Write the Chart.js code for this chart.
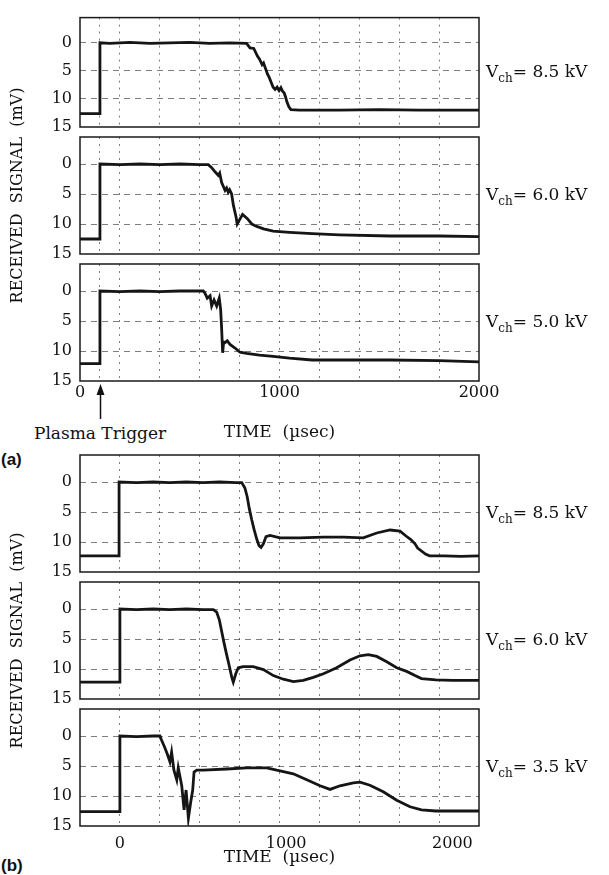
<!DOCTYPE html>
<html>
<head>
<meta charset="utf-8">
<script src="https://cdn.jsdelivr.net/npm/chart.js@4.4.1/dist/chart.umd.min.js"></script>
<style>
  html, body { margin: 0; padding: 0; background: #fff; }
  #fig { position: relative; width: 609px; height: 875px; overflow: hidden; font-family: 'DejaVu Serif', serif; color: #111; }
  #fig canvas { position: absolute; left: 0; top: 0; }
  .vch { position: absolute; left: 486px; font-size: 17px; line-height: 20px; white-space: nowrap; }
  .vch sub { font-size: 12px; vertical-align: -5px; line-height: 0; }
  .note { position: absolute; font-size: 17px; line-height: 20px; white-space: nowrap; }
  .tag { position: absolute; left: 1px; font-family: 'Liberation Sans', Arial, sans-serif; font-weight: bold; font-size: 17px; line-height: 20px; }
</style>
</head>
<body>
<div id="fig">
  <div class="note" id="trigLabel">Plasma Trigger</div>
  <div class="tag" style="top:450px">(a)</div>
  <div class="tag" style="top:856px">(b)</div>
</div>
<script>
// oscilloscope traces, time in usec, signal in mV (axis points down)

// (a) trigger at ~100 usec
var timeA1 = [0, 100, 100, 150, 250, 350, 450, 550, 650, 750, 835, 852, 871, 890, 900, 913, 920, 929, 940, 949, 960, 968, 978, 988, 998, 1007, 1015, 1023, 1030, 1037, 1047, 1057, 1100, 1300, 1500, 1700, 1900, 2000];
var sigA1  = [12.6, 12.6, 0, 0.1, -0.1, 0.1, 0, -0.1, 0.1, 0, 0.1, 0.9, 1.0, 2.4, 2.9, 3.9, 3.6, 4.5, 5.6, 6.2, 7.2, 7.9, 8.3, 7.9, 8.5, 8.0, 8.6, 8.9, 9.6, 10.5, 11.4, 11.9, 12.0, 12.0, 11.9, 12.0, 12.0, 12.0];

var timeA2 = [0, 100, 100, 200, 300, 400, 500, 600, 643, 660, 677, 693, 700, 710, 727, 735, 743, 750, 760, 769, 782, 788, 798, 815, 839, 861, 886, 920, 968, 1050, 1164, 1300, 1556, 1800, 2000];
var sigA2  = [12.5, 12.5, 0, 0.1, 0, 0.1, 0, 0.1, 0.1, 0.6, 1.3, 1.9, 1.5, 3.1, 4.4, 4.0, 4.7, 4.3, 5.0, 6.9, 8.8, 10.0, 9.4, 8.4, 9.1, 10.0, 10.4, 10.8, 11.2, 11.4, 11.6, 11.8, 12.0, 12.0, 12.1];

var timeA3 = [0, 100, 100, 200, 300, 400, 500, 618, 627, 638, 652, 660, 672, 685, 698, 705, 710, 715, 720, 727, 738, 752, 777, 802, 835, 900, 968, 1050, 1164, 1300, 1556, 1800, 2000];
var sigA3  = [12.1, 12.1, 0, 0.1, 0, 0.1, 0, 0, 0.4, 1.2, 0.8, 2.5, 1.5, 2.5, 1.2, 3.1, 6.3, 10.3, 8.5, 8.6, 8.3, 8.9, 9.5, 10.2, 10.4, 10.7, 10.9, 11.2, 11.5, 11.5, 11.5, 11.6, 11.8];

// (b) trigger at 0
var timeB1 = [-240, -5, -5, 100, 200, 300, 400, 500, 600, 700, 733, 752, 766, 778, 793, 807, 823, 837, 849, 863, 879, 903, 963, 1083, 1223, 1344, 1464, 1545, 1625, 1685, 1721, 1750, 1775, 1791, 1838, 1862, 1950, 2050, 2160];
var sigB1  = [12.3, 12.3, 0, 0.1, 0, 0.1, 0, 0.1, 0, 0.1, 0.1, 1.0, 2.5, 4.4, 6.3, 7.9, 9.5, 10.6, 10.9, 10.3, 9.1, 8.9, 9.3, 9.3, 9.2, 9.2, 9.3, 8.5, 8.0, 8.2, 9.0, 9.6, 10.3, 11.0, 12.0, 12.3, 12.3, 12.4, 12.3];

var timeB2 = [-240, 0, 0, 100, 200, 300, 400, 500, 562, 582, 598, 612, 626, 642, 658, 673, 682, 697, 712, 742, 802, 863, 923, 983, 1043, 1103, 1163, 1224, 1304, 1384, 1444, 1494, 1545, 1605, 1665, 1725, 1775, 1814, 1900, 2000, 2160];
var sigB2  = [12.2, 12.2, 0, 0.1, 0, 0.1, 0, 0.1, 0.1, 0.5, 1.8, 3.7, 5.6, 7.6, 9.5, 11.4, 12.2, 10.8, 9.8, 9.6, 9.6, 10.1, 11.1, 11.7, 12.1, 11.9, 11.4, 10.8, 9.8, 8.5, 7.8, 7.6, 7.9, 8.8, 9.8, 10.4, 11.1, 11.6, 11.8, 11.9, 11.9];

var timeB3 = [-240, 0, 0, 100, 200, 241, 251, 271, 285, 301, 311, 325, 342, 351, 372, 386, 398, 412, 426, 438, 446, 462, 502, 642, 763, 883, 943, 1043, 1124, 1204, 1264, 1324, 1404, 1444, 1504, 1584, 1665, 1745, 1814, 1900, 2000, 2160];
var sigB3  = [12.6, 12.6, 0, 0.1, 0, 0, 0.7, 2.0, 3.0, 4.3, 2.7, 5.7, 7.3, 5.3, 8.3, 12.3, 9.0, 13.7, 11.0, 9.0, 6.0, 5.7, 5.7, 5.5, 5.3, 5.3, 5.7, 6.3, 7.3, 8.3, 8.9, 8.3, 7.8, 7.7, 8.2, 9.3, 10.7, 11.8, 12.3, 12.5, 12.5, 12.5];

var chargeV = ['8.5', '6.0', '5.0', '8.5', '6.0', '3.5'];

// axes
var yTicks = [0, 5, 10, 15];
var xTickLabels = [0, 1000, 2000];
var gridA = [100, 200, 400, 600, 800, 1000, 1200, 1400, 1600, 1800];
var gridB = [0, 240, 480, 720, 960, 1200, 1440, 1680, 1920];

var W = 609, H = 875;
var boxLeft = 80, boxRight = 479, boxH = 117;
var gridCol = 'rgba(20,20,20,0.55)';
var fig = document.getElementById('fig');

var boxPlugin = {
  id: 'box',
  afterDraw: function (chart) {
    var a = chart.chartArea, ctx = chart.ctx;
    ctx.save();
    ctx.strokeStyle = '#1a1a1a';
    ctx.lineWidth = 1.5;
    ctx.strokeRect(a.left, a.top, a.right - a.left, a.bottom - a.top);
    ctx.restore();
  }
};

var arrowPlugin = {
  id: 'trigArrow',
  afterDraw: function (chart) {
    if (!chart.options.plugins.trigArrow) return;
    var ctx = chart.ctx, a = chart.chartArea;
    var x = Math.round(chart.scales.x.getPixelForValue(100)) + 0.5;
    var tip = a.bottom + 3, tail = a.bottom + 38;
    ctx.save();
    ctx.strokeStyle = '#111';
    ctx.fillStyle = '#111';
    ctx.lineWidth = 1.5;
    ctx.beginPath();
    ctx.moveTo(x, tail);
    ctx.lineTo(x, tip + 8);
    ctx.stroke();
    ctx.beginPath();
    ctx.moveTo(x, tip);
    ctx.lineTo(x - 4, tip + 11);
    ctx.lineTo(x + 4, tip + 11);
    ctx.closePath();
    ctx.fill();
    ctx.restore();
  }
};

function makePanel(t, v, top, group, pos) {
  var canvas = document.createElement('canvas');
  canvas.width = W;
  canvas.height = H;
  fig.appendChild(canvas);

  var isA = group === 'a';
  var last = pos === 2;
  var xH = last ? (isA ? 62 : 42) : 0;
  var grid = isA ? gridA : gridB;
  var xVals = grid.concat(xTickLabels).filter(function (d, i, arr) { return arr.indexOf(d) === i; }).sort(function (p, q) { return p - q; });
  var pts = t.map(function (tt, i) { return { x: tt, y: v[i] }; });

  return new Chart(canvas, {
    type: 'line',
    data: {
      datasets: [{
        data: pts,
        borderColor: '#151515',
        borderWidth: 2.8,
        pointRadius: 0,
        tension: 0,
        fill: false
      }]
    },
    options: {
      responsive: false,
      animation: false,
      devicePixelRatio: 1,
      layout: {
        padding: { left: 0, top: top, right: W - boxRight, bottom: H - (top + boxH) - xH }
      },
      plugins: {
        legend: { display: false },
        tooltip: { enabled: false },
        trigArrow: isA && last
      },
      scales: {
        x: {
          type: 'linear',
          min: isA ? 0 : -240,
          max: isA ? 2000 : 2160,
          afterFit: function (s) { s.height = xH; },
          afterBuildTicks: function (s) { s.ticks = xVals.map(function (d) { return { value: d }; }); },
          border: { display: false, dash: [2, 5] },
          grid: {
            drawTicks: false,
            lineWidth: 1,
            borderDash: [2, 5],
            color: function (c) { return c.tick && grid.indexOf(c.tick.value) >= 0 ? gridCol : 'rgba(0,0,0,0)'; }
          },
          ticks: {
            display: last,
            autoSkip: false,
            maxRotation: 0,
            padding: isA ? 2 : 8,
            color: '#111',
            font: { family: 'DejaVu Serif', size: 16 },
            callback: function (val) { return xTickLabels.indexOf(val) >= 0 ? String(val) : ''; }
          },
          title: {
            display: last,
            text: 'TIME  (\u00b5sec)',
            color: '#111',
            font: { family: 'DejaVu Serif', size: 17 },
            padding: { top: 0, bottom: 0 }
          }
        },
        y: {
          type: 'linear',
          min: -4.5,
          max: 15,
          reverse: true,
          afterFit: function (s) { s.width = boxLeft; },
          afterBuildTicks: function (s) { s.ticks = yTicks.map(function (d) { return { value: d }; }); },
          border: { display: false, dash: [6, 5] },
          grid: {
            drawTicks: false,
            lineWidth: 1,
            borderDash: [6, 5],
            color: function (c) { return c.tick && c.tick.value < 15 ? gridCol : 'rgba(0,0,0,0)'; }
          },
          ticks: {
            padding: 8,
            color: '#111',
            font: { family: 'DejaVu Serif', size: 16 }
          },
          title: {
            display: pos === 1,
            text: 'RECEIVED  SIGNAL  (mV)',
            color: '#111',
            font: { family: 'DejaVu Serif', size: 16 },
            padding: { top: 8, bottom: 0 }
          }
        }
      }
    },
    plugins: [boxPlugin, arrowPlugin]
  });
}

var series = [[timeA1, sigA1], [timeA2, sigA2], [timeA3, sigA3], [timeB1, sigB1], [timeB2, sigB2], [timeB3, sigB3]];
var tops = [10, 137, 264, 455, 582, 709];
var charts = [];

series.forEach(function (s, i) {
  var group = i < 3 ? 'a' : 'b';
  var chart = makePanel(s[0], s[1], tops[i], group, i % 3);
  charts.push(chart);

  // V_ch label beside each panel, level with the 5 mV line
  var lab = document.createElement('div');
  lab.className = 'vch';
  lab.innerHTML = 'V<sub>ch</sub>= ' + chargeV[i] + ' kV';
  lab.style.top = (chart.scales.y.getPixelForValue(5) - 10) + 'px';
  fig.appendChild(lab);
});

// centre the trigger caption under the arrow of panel (a)
var trig = document.getElementById('trigLabel');
var trigX = charts[2].scales.x.getPixelForValue(100);
trig.style.left = (trigX - trig.offsetWidth / 2) + 'px';
trig.style.top = (charts[2].chartArea.bottom + 42) + 'px';
</script>
</body>
</html>
